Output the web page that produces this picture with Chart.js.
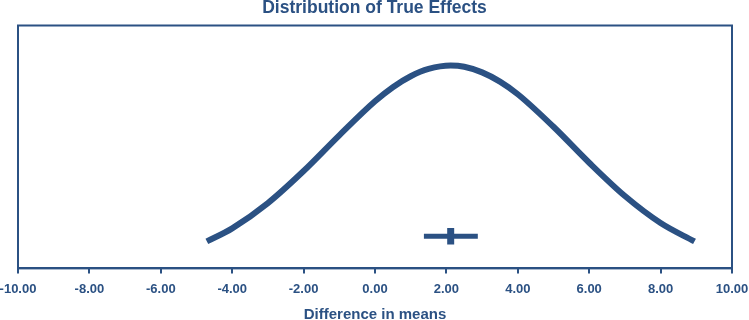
<!DOCTYPE html>
<html>
<head>
<meta charset="utf-8">
<script src="https://cdn.jsdelivr.net/npm/chart.js@4.4.1/dist/chart.umd.min.js"></script>
<style>
    html, body { margin: 0; padding: 0; background: #fff; }
    #wrap { width: 749px; height: 320px; }
</style>
</head>
<body>
<div id="wrap"><canvas id="myChart"></canvas></div>
<script>
// values
const curveX = [-4.71, -4, -3, -2, -1, 0, 0.5, 1, 1.5, 2.12, 2.5, 3, 3.5, 4, 5, 6, 7, 8, 8.95];
const curveY = [0.111, 0.165, 0.269, 0.401, 0.548, 0.688, 0.746, 0.791, 0.821, 0.835, 0.830, 0.807, 0.769, 0.717, 0.583, 0.435, 0.298, 0.187, 0.111];
const effectMean = 2.12;
const effectLow = 1.37;
const effectHigh = 2.88;
const xTicks = [-10, -8, -6, -4, -2, 0, 2, 4, 6, 8, 10];

const BLUE = '#2b5183';
const markerLevel = 0.132;

// box round the plot area
const frame = {
    id: 'frame',
    afterDraw(chart) {
        const a = chart.chartArea;
        const c = chart.ctx;
        c.save();
        c.strokeStyle = BLUE;
        c.lineWidth = 2;
        c.strokeRect(a.left, a.top, a.right - a.left, a.bottom - a.top);
        c.restore();
    }
};

const ctx = document.getElementById('myChart');
const myChart = new Chart(ctx, {
    type: 'scatter',
    data: {
        datasets: [{
            data: curveX.map((x, i) => ({ x, y: curveY[i] })),
            showLine: true,
            borderColor: BLUE,
            borderWidth: 6,
            pointRadius: 0,
            cubicInterpolationMode: 'monotone'
        }, {
            data: [{ x: effectLow, y: markerLevel }, { x: effectHigh, y: markerLevel }],
            showLine: true,
            borderColor: BLUE,
            borderWidth: 5,
            pointRadius: 0
        }, {
            data: [{ x: effectMean, y: markerLevel - 0.034 }, { x: effectMean, y: markerLevel + 0.034 }],
            showLine: true,
            borderColor: BLUE,
            borderWidth: 7,
            pointRadius: 0
        }]
    },
    options: {
        responsive: true,
        maintainAspectRatio: false,
        animation: false,
        layout: { padding: { top: 0, bottom: -3, left: 0, right: 0 } },
        plugins: {
            legend: { display: false },
            tooltip: { enabled: false },
            title: {
                display: true,
                text: 'Distribution of True Effects',
                color: BLUE,
                font: { family: 'Liberation Sans, Arial, sans-serif', size: 17.5, weight: 'bold', lineHeight: 1 },
                padding: { top: -1, bottom: 9 }
            }
        },
        scales: {
            x: {
                type: 'linear',
                min: -10,
                max: 10,
                afterBuildTicks(axis) {
                    axis.ticks = xTicks.map(v => ({ value: v }));
                },
                afterFit(axis) {
                    axis.paddingLeft = 18;
                    axis.paddingRight = 17;
                },
                ticks: {
                    color: BLUE,
                    font: { family: 'Liberation Sans, Arial, sans-serif', size: 13, weight: 'bold' },
                    padding: 8,
                    maxRotation: 0,
                    callback: v => v.toFixed(2)
                },
                grid: {
                    drawOnChartArea: false,
                    color: BLUE,
                    lineWidth: 2,
                    tickLength: 5
                },
                border: { display: true, color: BLUE, width: 2 },
                title: {
                    display: true,
                    text: 'Difference in means',
                    color: BLUE,
                    font: { family: 'Liberation Sans, Arial, sans-serif', size: 15, weight: 'bold', lineHeight: 1 },
                    padding: { top: 2, bottom: 1 }
                }
            },
            y: {
                display: false,
                min: 0,
                max: 1
            }
        }
    },
    plugins: [frame]
});
</script>
</body>
</html>
